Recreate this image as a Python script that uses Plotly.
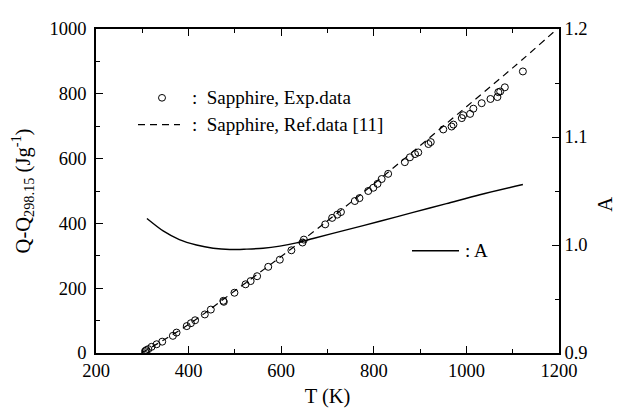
import plotly.graph_objects as go

# Experimental data (sapphire)
T_exp = [306, 309, 313, 320, 331, 343, 366, 374, 396, 405, 414, 435, 448, 475, 476, 499, 523, 534, 548,
         572, 597, 622, 646, 649, 695, 710, 721, 729, 759, 769, 788, 799, 808, 817, 831, 867, 878,
         889, 896, 918, 923, 950, 968, 972, 990, 993, 1008, 1015, 1033, 1052, 1067, 1069, 1073, 1083, 1122]
Q_exp = [6, 9, 12, 19, 27, 35, 53, 63, 83, 92, 101, 119, 134, 161, 158, 186, 212, 222, 237,
         266, 288, 317, 341, 350, 397, 417, 427, 435, 469, 478, 500, 510, 522, 537, 553, 589, 604,
         614, 619, 645, 651, 690, 699, 705, 725, 734, 738, 754, 771, 784, 790, 805, 807, 820, 869]

# Reference data
T_ref = [298.15, 400, 500, 600, 700, 800, 900, 1000, 1100, 1200]
Q_ref = [0, 88, 192, 298, 408, 522, 640, 760, 880, 1005]

# A curve (right axis)
T_A = [310, 345, 380, 417, 453, 489, 525, 561, 597, 633, 669, 741, 813, 885, 957, 1029, 1122]
A_vals = [1.0245, 1.013, 1.005, 1.0, 0.997, 0.9958, 0.9962, 0.997, 0.999, 1.002, 1.006,
          1.014, 1.022, 1.0302, 1.0383, 1.0465, 1.056]

FONT = "Liberation Serif, Times New Roman, serif"
TICK_SIZE = 18.5
TITLE_SIZE = 20.5
LEG_SIZE = 19

fig = go.Figure()
fig.add_trace(go.Scatter(x=T_ref, y=Q_ref, mode="lines",
                         line=dict(color="black", width=1.2, dash="7px,5px", shape="spline"),
                         showlegend=False))
fig.add_trace(go.Scatter(x=T_exp, y=Q_exp, mode="markers",
                         marker=dict(symbol="circle-open", size=7, color="black", line=dict(width=1)),
                         showlegend=False))
fig.add_trace(go.Scatter(x=T_A, y=A_vals, mode="lines", yaxis="y2",
                         line=dict(color="black", width=1.4, shape="spline", smoothing=0.8),
                         showlegend=False))

axis_common = dict(showline=True, linecolor="black", linewidth=1.5, ticks="inside",
                   tickcolor="black", tickwidth=1.2, ticklen=7, showgrid=False, zeroline=False,
                   tickfont=dict(family=FONT, size=TICK_SIZE, color="black"))

# The page body has an 8px default margin: the figure is sized/offset to compensate
W, H = 614, 407
L, R, T, B = 88, 63, 11, 57

fig.update_layout(
    width=W, height=H,
    margin=dict(l=L, r=R, t=T, b=B),
    paper_bgcolor="white", plot_bgcolor="white",
    font=dict(family=FONT, size=18, color="black"),
    xaxis=dict(range=[200, 1200], dtick=200, tick0=200, mirror="ticks",
               minor=dict(dtick=100, ticks="inside", ticklen=4, tickcolor="black"),
               title=dict(text="T (K)", font=dict(family=FONT, size=TITLE_SIZE), standoff=9),
               **axis_common),
    yaxis=dict(range=[0, 1000], dtick=200, tick0=0, ticklabelstandoff=4,
               minor=dict(dtick=100, ticks="inside", ticklen=4, tickcolor="black"),
               title=dict(text="Q-Q<sub>298.15</sub> (Jg<sup>-1</sup>)", font=dict(family=FONT, size=TITLE_SIZE), standoff=14),
               **axis_common),
    yaxis2=dict(range=[0.9, 1.2], dtick=0.1, tick0=0.9, tickformat=".1f", overlaying="y", side="right",
                minor=dict(dtick=0.05, ticks="inside", ticklen=4, tickcolor="black"),
                **axis_common),
)

PW, PH = W - L - R, H - T - B

def px_to_paper(x, y):
    # x, y in window pixels
    return (x - 8 - L) / PW, (8 + H - B - y) / PH

# Right axis title "A"
ax, ay = px_to_paper(605, 203)
fig.add_annotation(xref="paper", yref="paper", x=ax, y=ay, xanchor="center", yanchor="middle",
                   text="A", textangle=-90, showarrow=False, borderpad=0,
                   font=dict(family=FONT, size=TITLE_SIZE))

# Legend: circle marker
cx, cy = px_to_paper(162, 91)
fig.add_shape(type="circle", xref="paper", yref="paper",
              x0=cx - 3.5 / PW, x1=cx + 3.5 / PW, y0=cy - 3.5 / PH, y1=cy + 3.5 / PH,
              line=dict(color="black", width=1))
tx, ty = px_to_paper(190, 91)
fig.add_annotation(xref="paper", yref="paper", x=tx, y=ty, xanchor="left", yanchor="middle",
                   text=":  Sapphire, Exp.data", showarrow=False, font=dict(family=FONT, size=LEG_SIZE))
# Legend: dashed line
x0, y0 = px_to_paper(138, 119)
x1, _ = px_to_paper(180, 119)
fig.add_shape(type="line", xref="paper", yref="paper", x0=x0, x1=x1, y0=y0, y1=y0,
              line=dict(color="black", width=1.2, dash="7px,5px"))
tx, ty = px_to_paper(190, 119)
fig.add_annotation(xref="paper", yref="paper", x=tx, y=ty, xanchor="left", yanchor="middle",
                   text=":  Sapphire, Ref.data [11]", showarrow=False, font=dict(family=FONT, size=LEG_SIZE))
# Legend: A line
x0, y0 = px_to_paper(412, 251)
x1, _ = px_to_paper(459, 251)
fig.add_shape(type="line", xref="paper", yref="paper", x0=x0, x1=x1, y0=y0, y1=y0,
              line=dict(color="black", width=1.4))
tx, ty = px_to_paper(463, 251)
fig.add_annotation(xref="paper", yref="paper", x=tx, y=ty, xanchor="left", yanchor="middle",
                   text=": A", showarrow=False, font=dict(family=FONT, size=LEG_SIZE))

fig.write_html("out.html")
